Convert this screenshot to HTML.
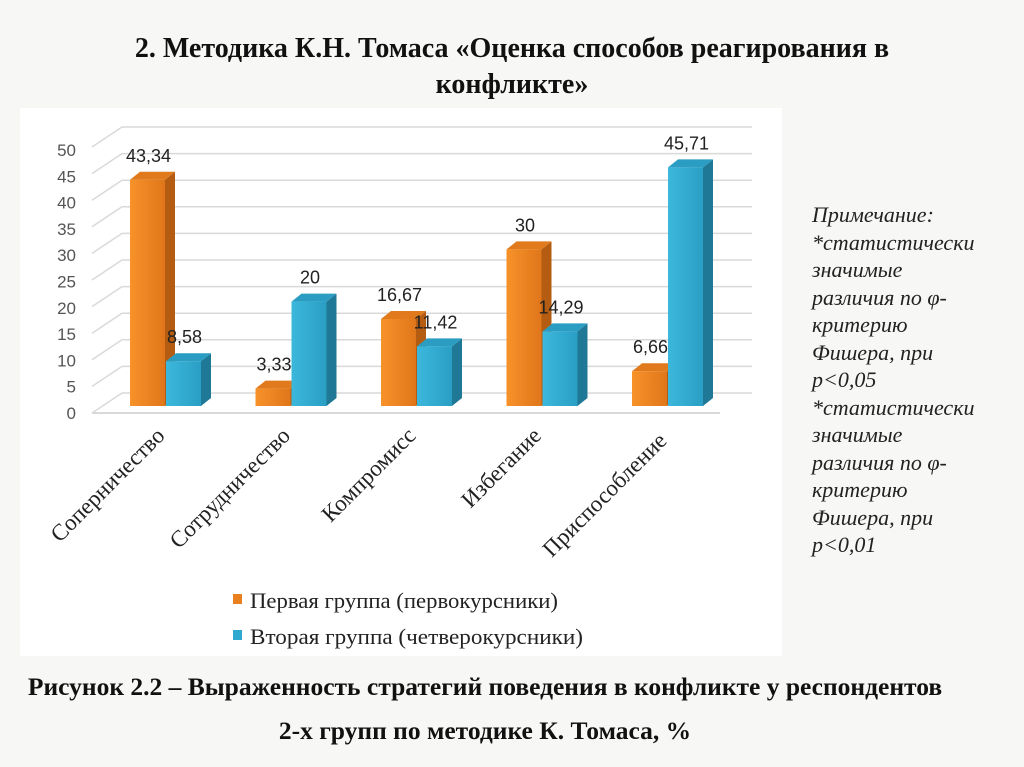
<!DOCTYPE html>
<html><head><meta charset="utf-8"><style>
body{margin:0;width:1024px;height:767px;background:#f7f7f5;overflow:hidden;position:relative;font-family:"Liberation Serif",serif;}
.t{position:absolute;left:0;width:1024px;text-align:center;font-weight:bold;color:#111;white-space:nowrap;}
#note{position:absolute;left:812px;top:201px;font-style:italic;font-size:22px;line-height:27.5px;color:#222;}
</style></head><body>
<div class="t" style="top:31px;font-size:28px;line-height:36px;">2. Методика К.Н. Томаса «Оценка способов реагирования в<br>конфликте»</div>
<svg style="position:absolute;left:0;top:0" width="1024" height="767">
<defs>
<linearGradient id="og" x1="0" x2="1"><stop offset="0" stop-color="#f7922a"/><stop offset="1" stop-color="#e0761a"/></linearGradient>
<linearGradient id="bg" x1="0" x2="1"><stop offset="0" stop-color="#3cb8dc"/><stop offset="1" stop-color="#2a9ec4"/></linearGradient>
</defs>
<rect x="20" y="108" width="762" height="548" fill="#fff"/>
<g id="grid"></g><g id="bars"></g><g id="labels"></g>
<g font-family="Liberation Serif, serif" font-size="22" fill="#222">
<rect x="233" y="594" width="9" height="10" fill="#e8801f"/>
<text x="250" y="608" textLength="308" lengthAdjust="spacingAndGlyphs">Первая группа (первокурсники)</text>
<rect x="233" y="630" width="9" height="10" fill="#2fa9d0"/>
<text x="250" y="644" textLength="333" lengthAdjust="spacingAndGlyphs">Вторая группа (четверокурсники)</text>
</g>
</svg>
<div id="note">Примечание:<br>*статистически<br>значимые<br>различия по φ-<br>критерию<br>Фишера, при<br>p&lt;0,05<br>*статистически<br>значимые<br>различия по φ-<br>критерию<br>Фишера, при<br>p&lt;0,01</div>
<div class="t" style="top:672px;left:-27px;font-size:25.5px;">Рисунок 2.2 – Выраженность стратегий поведения в конфликте у респондентов</div>
<div class="t" style="top:716px;left:-27px;font-size:25.5px;">2-х групп по методике К. Томаса, %</div>
<script>
const categories=["Соперничество","Сотрудничество","Компромисс","Избегание","Приспособление"];
const firstGroup=[43.34,3.33,16.67,30,6.66];
const secondGroup=[8.58,20,11.42,14.29,45.71];
const firstLabels=["43,34","3,33","16,67","30","6,66"];
const secondLabels=["8,58","20","11,42","14,29","45,71"];
const ticks=[0,5,10,15,20,25,30,35,40,45,50];
const NS="http://www.w3.org/2000/svg";
function mk(p,tag,a){const e=document.createElementNS(NS,tag);for(const k in a)e.setAttribute(k,a[k]);p.appendChild(e);return e;}
const backY=v=>393-5.32*v, frontY=v=>413-5.26*v, barY=v=>406-5.22*v;
const gx=i=>130+i*125.5;
const grid=document.getElementById('grid');
ticks.forEach(t=>{
 const l=mk(grid,'line',{x1:122,y1:backY(t),x2:752,y2:backY(t),stroke:'#d9d9d9','stroke-width':1.5});
 
 
 const s=mk(grid,'line',{x1:92,y1:backY(t)+20,x2:122,y2:backY(t),stroke:'#d9d9d9','stroke-width':1.5});
 
 
 const tx=mk(grid,'text',{x:76,y:frontY(t)+6,'text-anchor':'end','font-family':'Liberation Sans, sans-serif','font-size':17,fill:'#555'});
 tx.textContent=t;
 
 
});
const fl=mk(grid,'line',{x1:92,y1:413,x2:720,y2:413,stroke:'#d9d9d9','stroke-width':2});


const bars=document.getElementById('bars');
function bar(x,v,fill,side,top,name,lab){
 const g=mk(bars,'g',{});
 
 
 const y=barY(v),w=35,d=10,dy=8,b=406;
 mk(g,'polygon',{points:`${x+w},${y} ${x+w+d},${y-dy} ${x+w+d},${b-dy} ${x+w},${b}`,fill:side});
 mk(g,'polygon',{points:`${x},${y} ${x+d},${y-dy} ${x+w+d},${y-dy} ${x+w},${y}`,fill:top});
 mk(g,'rect',{x:x,y:y,width:w,height:b-y,fill:fill});
 const t=mk(g,'text',{x:x+w/2+1,y:y-18,'text-anchor':'middle','font-family':'Liberation Sans, sans-serif','font-size':18,fill:'#222'});
 t.textContent=lab;
}
categories.forEach((c,i)=>{
 const x=gx(i);
 bar(x,firstGroup[i],'url(#og)','#b45d12','#e07a1c','bar-first-'+i,firstLabels[i]);
 bar(x+36,secondGroup[i],'url(#bg)','#1f7896','#2b9dc2','bar-second-'+i,secondLabels[i]);
 const lx=x+36, ly=i==4?442:437;
 const t=mk(document.getElementById('labels'),'text',{x:lx,y:ly,'text-anchor':'end','font-family':'Liberation Serif, serif','font-size':23,fill:'#222',transform:`rotate(-45 ${lx} ${ly})`});
 t.textContent=c;
 
 
});
</script>
</body></html>
